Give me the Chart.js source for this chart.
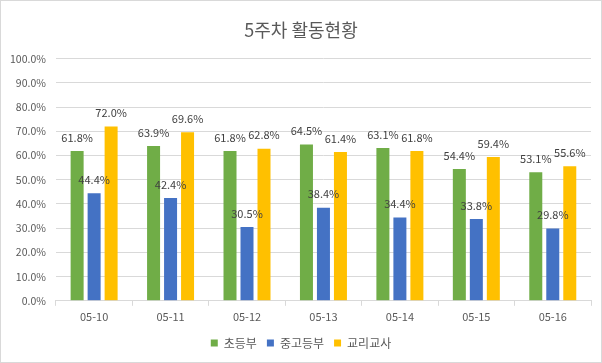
<!DOCTYPE html>
<html>
<head>
<meta charset="utf-8">
<script src="https://cdn.jsdelivr.net/npm/chart.js@4"></script>
<style>
  html, body { margin: 0; padding: 0; background: #fff; }
  #wrap { width: 602px; height: 363px; }
</style>
</head>
<body>
<div id="wrap"><canvas id="chart" width="602" height="363"></canvas></div>
<script>
// data
const categories = ["05-10", "05-11", "05-12", "05-13", "05-14", "05-15", "05-16"];
const elementary = [61.8, 63.9, 61.8, 64.5, 63.1, 54.4, 53.1];
const youth = [44.4, 42.4, 30.5, 38.4, 34.4, 33.8, 29.8];
const teachers = [72.0, 69.6, 62.8, 61.4, 61.8, 59.4, 55.6];
const yTicks = [0, 10, 20, 30, 40, 50, 60, 70, 80, 90, 100];

const COLORS = { green: "#70ad47", blue: "#4472c4", gold: "#ffc000", text: "#595959", label: "#404040", grid: "#d9d9d9" };
const FONT = "'Noto Sans CJK KR', 'Noto Sans', sans-serif";

// value labels above each bar
const barLabels = {
  id: "barLabels",
  afterDatasetsDraw(chart) {
    const ctx = chart.ctx;
    ctx.save();
    ctx.font = "11px " + FONT;
    ctx.fillStyle = COLORS.label;
    ctx.textAlign = "center";
    ctx.textBaseline = "middle";
    chart.data.datasets.forEach((ds, i) => {
      chart.getDatasetMeta(i).data.forEach((bar, j) => {
        ctx.fillText(ds.data[j].toFixed(1) + "%", bar.x, bar.y - 13.5);
      });
    });
    ctx.restore();
  },
};

// thin grey frame round the whole picture
const frame = {
  id: "frame",
  afterDraw(chart) {
    const ctx = chart.ctx;
    ctx.save();
    ctx.strokeStyle = COLORS.grid;
    ctx.lineWidth = 1;
    ctx.strokeRect(0.5, 0.5, chart.width - 1, chart.height - 1);
    ctx.restore();
  },
};

const bar = (label, data, color) => ({
  label, data, backgroundColor: color, borderWidth: 0,
  categoryPercentage: 0.667, barPercentage: 0.765,
});

new Chart(document.getElementById("chart"), {
  type: "bar",
  data: {
    labels: categories,
    datasets: [
      bar("초등부", elementary, COLORS.green),
      bar("중고등부", youth, COLORS.blue),
      bar("교리교사", teachers, COLORS.gold),
    ],
  },
  options: {
    responsive: false,
    animation: false,
    layout: { padding: { left: 0, right: 0, top: 0, bottom: 4 } },
    plugins: {
      title: {
        display: true,
        text: "5주차 활동현황",
        color: COLORS.text,
        font: { family: FONT, size: 18, weight: "normal" },
        padding: { top: 19, bottom: 18 },
      },
      legend: {
        position: "bottom",
        labels: {
          color: COLORS.text,
          font: { family: FONT, size: 12 },
          boxWidth: 7, boxHeight: 7, padding: 10,
        },
      },
      tooltip: { enabled: false },
    },
    scales: {
      x: {
        grid: { drawOnChartArea: false, color: COLORS.grid, tickLength: 5 },
        border: { color: COLORS.grid },
        ticks: { color: COLORS.text, font: { family: FONT, size: 11 }, padding: 4 },
      },
      y: {
        min: 0, max: 100,
        afterBuildTicks: (axis) => { axis.ticks = yTicks.map((v) => ({ value: v })); },
        grid: { color: COLORS.grid, drawTicks: false },
        border: { display: false },
        ticks: {
          color: COLORS.text, font: { family: FONT, size: 10.5 }, padding: 10,
          callback: (v) => v.toFixed(1) + "%",
        },
      },
      // empty right-hand axis: keeps an 11px margin without shifting the legend
      yRight: {
        position: "right",
        grid: { display: false },
        border: { display: false },
        ticks: { display: false },
        afterFit: (axis) => { axis.width = 11; },
      },
    },
  },
  plugins: [barLabels, frame],
});
</script>
</body>
</html>
